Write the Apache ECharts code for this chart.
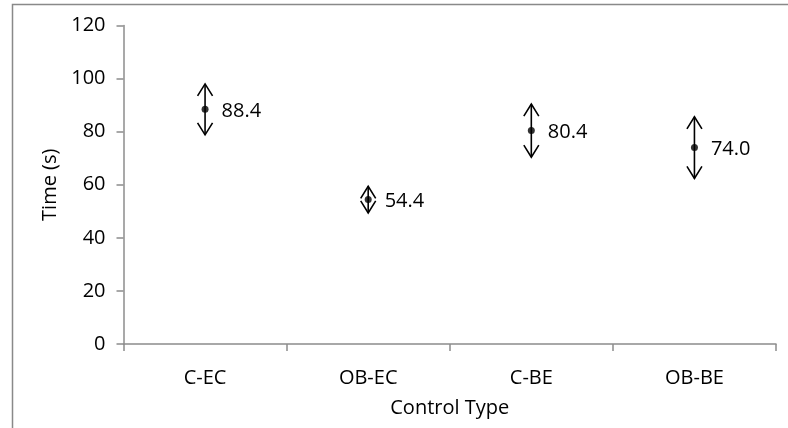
<!DOCTYPE html>
<html>
<head>
<meta charset="utf-8">
<script src="https://cdn.jsdelivr.net/npm/echarts@6/dist/echarts.min.js"></script>
<style>
html,body{margin:0;padding:0;background:#fff;}
#chart{width:788px;height:428px;}
</style>
</head>
<body>
<div id="chart"></div>
<script>
var categories = ['C-EC', 'OB-EC', 'C-BE', 'OB-BE'];
var means = [88.4, 54.4, 80.4, 74.0];
var errors = [9.6, 5.0, 10.0, 11.6];
var yTicks = [0, 20, 40, 60, 80, 100, 120];

var FONT = 'Open Sans';
var FS = 20;
var chart = echarts.init(document.getElementById('chart'));

var errData = categories.map(function (c, i) { return [i, means[i], errors[i]]; });
var ptData = categories.map(function (c, i) { return [i, means[i]]; });

chart.setOption({
  animation: false,
  backgroundColor: '#fff',
  graphic: [{
    type: 'rect',
    shape: { x: 12.5, y: 4.5, width: 900, height: 600 },
    style: { fill: 'none', stroke: '#898989', lineWidth: 1.5 },
    silent: true
  }],
  grid: { left: 123.5, right: 12, top: 25.5, bottom: 84 },
  xAxis: {
    type: 'category',
    data: categories,
    boundaryGap: true,
    name: 'Control Type',
    nameLocation: 'middle',
    nameGap: 54,
    nameTextStyle: { fontFamily: FONT, fontSize: FS, color: '#000' },
    axisLine: { lineStyle: { color: '#8c8c8c', width: 1.5 } },
    axisTick: { show: true, inside: false, length: 7, alignWithLabel: false, lineStyle: { color: '#8c8c8c', width: 1.5 } },
    axisLabel: { fontFamily: FONT, fontSize: FS, color: '#000', margin: 24 },
    splitLine: { show: false }
  },
  yAxis: {
    type: 'value',
    min: yTicks[0],
    max: yTicks[yTicks.length - 1],
    interval: yTicks[1] - yTicks[0],
    name: 'Time (s)',
    nameLocation: 'middle',
    nameGap: 62,
    nameTextStyle: { fontFamily: FONT, fontSize: FS, color: '#000' },
    axisLine: { show: true, lineStyle: { color: '#8c8c8c', width: 1.5 } },
    axisTick: { show: true, inside: false, length: 7, lineStyle: { color: '#8c8c8c', width: 1.5 } },
    axisLabel: { fontFamily: FONT, fontSize: FS, color: '#000', margin: 18 },
    splitLine: { show: false }
  },
  series: [
    {
      type: 'custom',
      data: errData,
      z: 2,
      renderItem: function (params, api) {
        var i = api.value(0), m = api.value(1), e = api.value(2);
        var top = api.coord([i, m + e]);
        var bot = api.coord([i, m - e]);
        var x = top[0];
        var hw = 7.5, hh = 12;
        var st = { stroke: '#000', lineWidth: 1.6, fill: 'none' };
        return {
          type: 'group',
          children: [
            { type: 'line', shape: { x1: x, y1: top[1], x2: x, y2: bot[1] }, style: st },
            { type: 'polyline', shape: { points: [[x - hw, top[1] + hh], [x, top[1]], [x + hw, top[1] + hh]] }, style: st },
            { type: 'polyline', shape: { points: [[x - hw, bot[1] - hh], [x, bot[1]], [x + hw, bot[1] - hh]] }, style: st }
          ]
        };
      }
    },
    {
      type: 'scatter',
      data: ptData,
      symbol: 'circle',
      symbolSize: 7,
      z: 3,
      itemStyle: { color: '#000' },
      label: {
        show: true,
        position: 'right',
        distance: 13,
        offset: [0, 2],
        fontFamily: FONT,
        fontSize: FS,
        color: '#000',
        opacity: 1,
        textBorderWidth: 0,
        formatter: function (p) { return p.value[1].toFixed(1); }
      }
    }
  ]
});
</script>
</body>
</html>
